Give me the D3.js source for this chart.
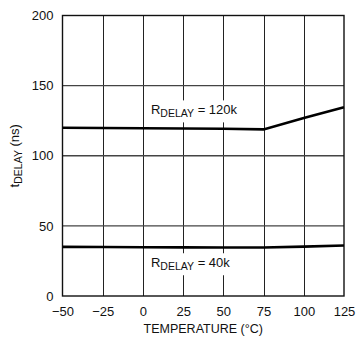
<!DOCTYPE html>
<html>
<head>
<meta charset="utf-8">
<script src="https://cdn.jsdelivr.net/npm/d3@7"></script>
<style>
  html, body { margin: 0; padding: 0; background: #fff; }
  svg text { font-family: "Liberation Sans Narrow", "Arial Narrow", "Liberation Sans", sans-serif; fill: #111; }
</style>
</head>
<body>
<svg id="chart" width="357" height="338"></svg>
<script>
// Delay time vs temperature for two timing resistors
const temperature = [-50, -25, 0, 25, 50, 75, 100, 125];
const delay120k = [120, 119.8, 119.6, 119.4, 119.2, 118.8, 127, 134.5];
const delay40k  = [35, 34.9, 34.8, 34.7, 34.6, 34.6, 35.2, 36];
const xTicks = [-50, -25, 0, 25, 50, 75, 100, 125];
const yTicks = [0, 50, 100, 150, 200];
const xTickLabels = ["\u221250", "\u221225", "0", "25", "50", "75", "100", "125"];

const svg = d3.select("#chart");
const m = { left: 62.5, top: 15.5, right: 344, bottom: 296 };

const x = d3.scaleLinear().domain([-50, 125]).range([m.left, m.right]);
const y = d3.scaleLinear().domain([0, 200]).range([m.bottom, m.top]);

// grid
svg.append("g").selectAll("line").data(xTicks.slice(1, -1)).join("line")
  .attr("x1", d => Math.round(x(d)) + 0.5).attr("x2", d => Math.round(x(d)) + 0.5)
  .attr("y1", m.top).attr("y2", m.bottom)
  .attr("stroke", "#222").attr("stroke-width", 1);
svg.append("g").selectAll("line").data(yTicks.slice(1, -1)).join("line")
  .attr("x1", m.left).attr("x2", m.right)
  .attr("y1", d => y(d)).attr("y2", d => y(d))
  .attr("stroke", "#444").attr("stroke-width", 1.3);

// plot frame
svg.append("rect")
  .attr("x", m.left).attr("y", m.top)
  .attr("width", m.right - m.left).attr("height", m.bottom - m.top)
  .attr("fill", "none").attr("stroke", "#111").attr("stroke-width", 1.4);

// axes (labels only, the frame serves as the axis line)
const xAxis = d3.axisBottom(x).tickValues(xTicks).tickSize(0).tickPadding(11)
  .tickFormat((d, i) => xTickLabels[i]);
svg.append("g").attr("transform", `translate(0,${m.bottom})`).call(xAxis)
  .call(g => g.select(".domain").remove())
  .call(g => g.selectAll("text").attr("font-size", 13).attr("font-family", null));

const yAxis = d3.axisLeft(y).tickValues(yTicks).tickSize(0).tickPadding(9);
svg.append("g").attr("transform", `translate(${m.left},0)`).call(yAxis)
  .call(g => g.select(".domain").remove())
  .call(g => g.selectAll("text").attr("font-size", 13).attr("font-family", null));

// curves
const line = d3.line().x((d, i) => x(temperature[i])).y(d => y(d));
[delay120k, delay40k].forEach(s => {
  svg.append("path").datum(s).attr("d", line)
    .attr("fill", "none").attr("stroke", "#000").attr("stroke-width", 2.6);
});

// curve labels with white backing
function curveLabel(tx, ty, value) {
  const g = svg.append("g");
  const bg = g.append("rect").attr("fill", "#fff");
  const t = g.append("text").attr("x", x(tx)).attr("y", y(ty)).attr("font-size", 13);
  t.append("tspan").text("R");
  t.append("tspan").attr("font-size", 10.5).attr("dy", 3).text("DELAY");
  t.append("tspan").attr("dy", -3).text(" = " + value);
  const b = t.node().getBBox();
  bg.attr("x", b.x - 4).attr("y", b.y - 2).attr("width", b.width + 8).attr("height", b.height + 5);
}
curveLabel(5, 129.5, "120k");
curveLabel(5, 20.5, "40k");

// axis titles
svg.append("text")
  .attr("x", (m.left + m.right) / 2).attr("y", 333)
  .attr("text-anchor", "middle").attr("font-size", 12.5)
  .text("TEMPERATURE (\u00B0C)");

const yt = svg.append("text")
  .attr("transform", `translate(19,${(m.top + m.bottom) / 2}) rotate(-90)`)
  .attr("text-anchor", "middle").attr("font-size", 13);
yt.append("tspan").text("t");
yt.append("tspan").attr("font-size", 10.5).attr("dy", 3).text("DELAY");
yt.append("tspan").attr("dy", -3).text(" (ns)");
</script>
</body>
</html>
